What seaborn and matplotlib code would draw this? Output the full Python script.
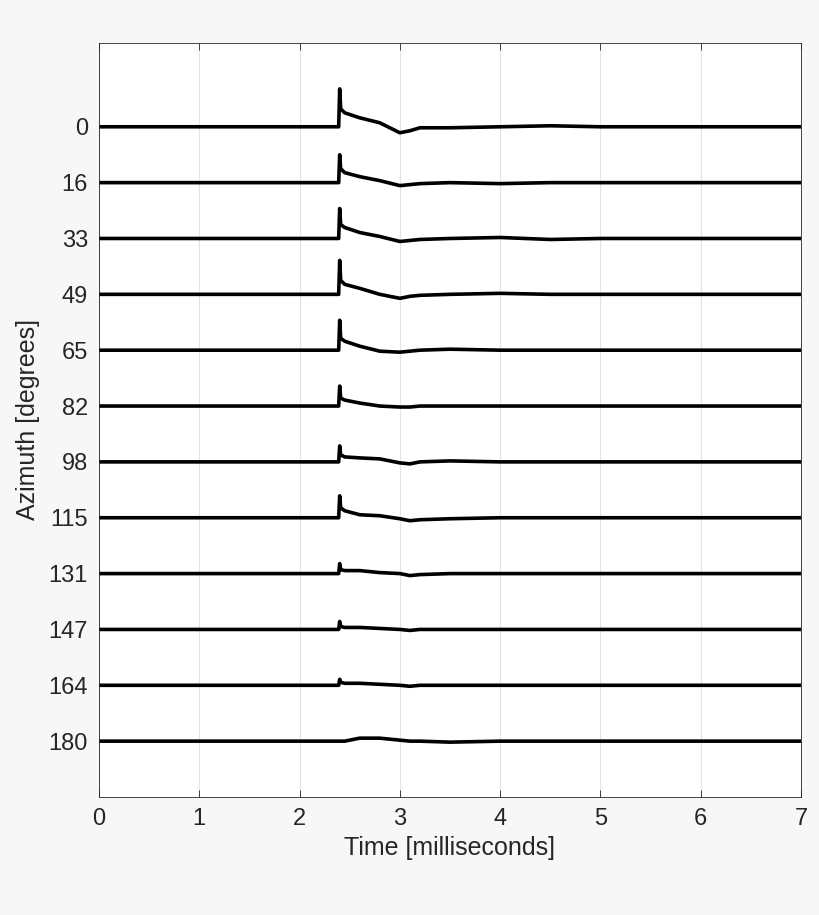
import matplotlib.pyplot as plt
import numpy as np
import pandas as pd
import seaborn as sns

# azimuth labels, top to bottom
azimuths = [0, 16, 33, 49, 65, 82, 98, 115, 131, 147, 164, 180]

# shared time breakpoints (ms)
times = [0.0, 2.39, 2.40, 2.41, 2.45, 2.6, 2.8, 3.0, 3.1, 3.2, 3.5, 4.0, 4.5, 5.0, 7.0]

# trace deflection at each breakpoint (upward, in pixels of the original picture)
traces = [
    [0, 0, 38, 18, 14, 9, 4, -6, -4, -1, -1, 0, 1, 0, 0],
    [0, 0, 28, 14, 10, 6, 2, -3, -2, -1, 0, -1, 0, 0, 0],
    [0, 0, 30, 14, 11, 6, 2, -3, -2, -1, 0, 1, -1, 0, 0],
    [0, 0, 34, 14, 10, 6, 0, -4, -2, -1, 0, 1, 0, 0, 0],
    [0, 0, 30, 12, 9, 4, -1, -2, -1, 0, 1, 0, 0, 0, 0],
    [0, 0, 20, 8, 6, 3, 0, -1, -1, 0, 0, 0, 0, 0, 0],
    [0, 0, 16, 7, 5, 4, 3, -1, -2, 0, 1, 0, 0, 0, 0],
    [0, 0, 22, 10, 7, 3, 2, -1, -3, -2, -1, 0, 0, 0, 0],
    [0, 0, 10, 4, 3, 3, 1, 0, -2, -1, 0, 0, 0, 0, 0],
    [0, 0, 8, 3, 2, 2, 1, 0, -1, 0, 0, 0, 0, 0, 0],
    [0, 0, 6, 3, 2, 2, 1, 0, -1, 0, 0, 0, 0, 0, 0],
    [0, 0, 0, 0, 0, 3, 3, 1, 0, 0, -1, 0, 0, 0, 0],
]
px_per_step = 56.0

rows = []
for i, (az, tr) in enumerate(zip(azimuths, traces)):
    for t, v in zip(times, tr):
        rows.append({"Time": t, "y": i - v / px_per_step, "az": str(az)})
df = pd.DataFrame(rows)

sns.set_theme(style="white")
plt.rcParams['font.family'] = ['Liberation Sans', 'DejaVu Sans']

fig = plt.figure(figsize=(8.2, 9.15), dpi=100, facecolor="#f7f7f7")
ax = fig.add_axes([99 / 820, 1 - 797 / 915, 702 / 820, 754 / 915])
ax.set_facecolor("white")

sns.lineplot(data=df, x="Time", y="y", units="az", estimator=None,
             color="black", linewidth=2.6, ax=ax, sort=False)

ax.set_xlim(0, 7)
ax.set_ylim(12, -1.5)
ax.set_xticks(range(8))
ax.set_yticks(range(len(azimuths)))
ax.set_yticklabels([str(a) for a in azimuths])
ax.grid(axis="x", color="#e3e3e3", linewidth=0.8)
ax.tick_params(axis="both", labelsize=17, colors="#262626", direction="in",
               length=5, top=True, right=True, bottom=True, left=True, width=0.6, pad=8)
for s in ax.spines.values():
    s.set_color("#262626")
    s.set_linewidth(0.6)
ax.set_xlabel("Time [milliseconds]", fontsize=18, color="#262626", labelpad=4)
ax.set_ylabel("Azimuth [degrees]", fontsize=18, color="#262626", labelpad=6)

fig.savefig("out.png", dpi=100, facecolor=fig.get_facecolor())
